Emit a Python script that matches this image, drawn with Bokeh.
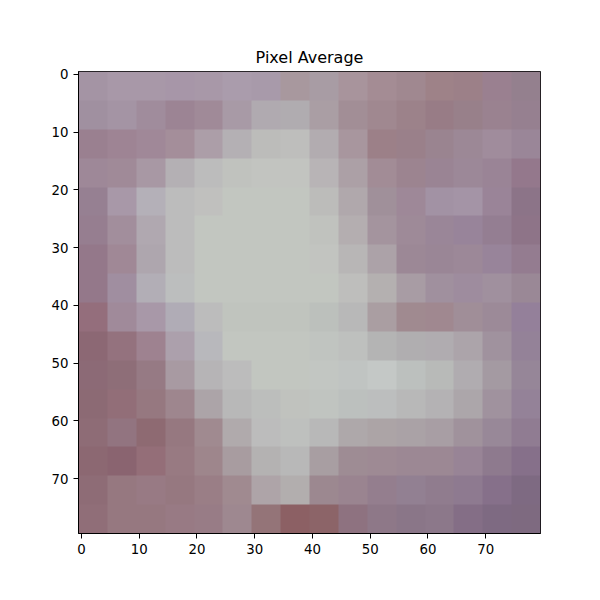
import numpy as np
from bokeh.plotting import figure
from bokeh.models import FixedTicker, Range1d
from bokeh.embed import file_html
from bokeh.resources import INLINE

# coarse 16x16 reading of the averaged image, each cell = 5x5 pixels, row 0 at top
row00 = ["#a494a4", "#a898a8", "#a898a8", "#a796a8", "#a898a8", "#aa9cac", "#a89aaa", "#a8989e", "#a89ca4", "#a8949c", "#a48c94", "#a08890", "#9e8288", "#9c8088", "#9a8090", "#94808e"]
row01 = ["#a090a0", "#a494a4", "#a08c9c", "#9c8494", "#a08a98", "#a89aa6", "#b0aab0", "#b0acb0", "#aa9ea4", "#a28e96", "#a08890", "#9c828a", "#987c86", "#98808a", "#9a8290", "#968090"]
row02 = ["#9a8090", "#9e8494", "#a08898", "#a48e9a", "#ac9ea8", "#b4b0b4", "#bcbcba", "#bebebc", "#b2acb0", "#a8969e", "#9c8088", "#9a808a", "#9a8490", "#9c8896", "#a08c9c", "#9a8698"]
row03 = ["#9e8898", "#a08a98", "#a898a4", "#b4b0b4", "#bcbcbc", "#c0c2be", "#c2c4c0", "#c2c4c0", "#b8b4b6", "#aca0a6", "#a28c96", "#9c8490", "#9a8494", "#9c8898", "#9a8496", "#94788c"]
row04 = ["#968092", "#a898a8", "#b4b0b8", "#bcbcbc", "#c0c0be", "#c2c6c0", "#c2c6c0", "#c2c6c0", "#bcbcba", "#b0a8ac", "#a0909a", "#9e8898", "#a292a4", "#a494a6", "#9a8498", "#8c7488"]
row05 = ["#967e90", "#a28e9c", "#b0a8b0", "#bcbcbc", "#c2c6c0", "#c2c6c0", "#c2c6c0", "#c2c6c0", "#c0c2be", "#b4aeb0", "#a4949e", "#9e8a98", "#9a8698", "#98849a", "#947e92", "#8e7488"]
row06 = ["#94788a", "#a08896", "#aea6ae", "#bcbcbc", "#c2c6c0", "#c2c6c0", "#c2c6c0", "#c2c6c0", "#c2c4c0", "#b8b6b6", "#aca2a8", "#9c8896", "#9a8696", "#9c8898", "#98849a", "#947c90"]
row07 = ["#94788a", "#a08ea0", "#b2aeb6", "#bcbebe", "#c2c6c0", "#c2c6c0", "#c2c6c0", "#c2c6c0", "#c2c6c0", "#bebebc", "#b4b0b0", "#a89ca4", "#a0909e", "#9e8c9e", "#a0909e", "#9a8896"]
row08 = ["#946e7c", "#a08a9a", "#a898a8", "#b0acb6", "#bcbcbc", "#c0c4be", "#c0c4be", "#c0c4be", "#bcc0bc", "#b8b8b8", "#aa9ea2", "#a08a90", "#a08890", "#a08e98", "#9c8a98", "#94809a"]
row09 = ["#8c6874", "#94727e", "#9e8290", "#aca0ac", "#b8b8bc", "#c2c6c0", "#c2c6c0", "#c2c6c0", "#c0c4c0", "#bec0be", "#b4b4b4", "#b0aeb0", "#b0acb0", "#aca4aa", "#a0929e", "#948298"]
row10 = ["#8c6a76", "#8e6e78", "#967a84", "#a89aa2", "#b6b4b6", "#bcbcbc", "#c2c6c0", "#c2c6c0", "#c2c6c2", "#c0c4c2", "#c4c8c6", "#bcc0be", "#b8bab8", "#b0acb0", "#a49aa2", "#968698"]
row11 = ["#8c6a74", "#926e78", "#967880", "#9e868e", "#aca4a8", "#b8b8b8", "#bcbebc", "#c0c2be", "#c0c4c0", "#bcc0be", "#bcbebe", "#b8b8b8", "#b4b2b4", "#aca6aa", "#a0929e", "#948298"]
row12 = ["#8e6c76", "#927480", "#8e6a72", "#967880", "#a08a90", "#b0aaac", "#bcbcbc", "#bec0be", "#b8b8b8", "#aea8aa", "#aca4a6", "#aaa2a6", "#a89ea4", "#a0929c", "#988898", "#907c92"]
row13 = ["#8c6872", "#8a6470", "#946e78", "#987a82", "#9e868c", "#a89ca0", "#b4b2b2", "#b8b8b8", "#a89ea2", "#9e8c94", "#9e8a94", "#9c8894", "#9c8894", "#988496", "#8e7a8e", "#86708a"]
row14 = ["#8e6c76", "#967880", "#987a84", "#967880", "#9a7e86", "#a08a90", "#aea4a8", "#b2aeae", "#9c8890", "#9a8490", "#947e8e", "#928092", "#907c8e", "#8e7a90", "#86708a", "#7e6a82"]
row15 = ["#906e78", "#967880", "#967880", "#987a84", "#987c86", "#9e8890", "#947478", "#8c6064", "#8c6468", "#8e7280", "#8e7888", "#8a7688", "#8c788a", "#846e86", "#7e6a82", "#7e6a80"]

rows = [row00, row01, row02, row03, row04, row05, row06, row07,
        row08, row09, row10, row11, row12, row13, row14, row15]

n = len(rows)
img = np.empty((n, n), dtype=np.uint32)
view = img.view(dtype=np.uint8).reshape((n, n, 4))
for i, r in enumerate(rows):
    for j, c in enumerate(r):
        view[i, j, 0] = int(c[1:3], 16)
        view[i, j, 1] = int(c[3:5], 16)
        view[i, j, 2] = int(c[5:7], 16)
        view[i, j, 3] = 255

p = figure(width=592, height=592, title="Pixel Average",
           x_range=Range1d(-0.5, 79.5), y_range=Range1d(79.5, -0.5),
           output_backend="svg", toolbar_location=None,
           min_border_left=78, min_border_right=52,
           min_border_top=71, min_border_bottom=59)
p.image_rgba(image=[img], x=-0.5, y=-0.5, dw=80, dh=80)

p.grid.grid_line_color = None
p.outline_line_color = "black"
p.outline_line_width = 1
p.title.align = "center"
p.title.text_font = "DejaVu Sans"
p.title.text_font_style = "normal"
p.title.text_font_size = "12pt"
p.title.text_color = "black"

for ax in (p.xaxis[0], p.yaxis[0]):
    ax.ticker = FixedTicker(ticks=[0, 10, 20, 30, 40, 50, 60, 70])
    ax.minor_tick_line_color = None
    ax.major_tick_out = 5
    ax.major_tick_in = 0
    ax.major_label_text_font = "DejaVu Sans"
    ax.major_label_text_font_size = "10pt"
    ax.major_label_text_color = "black"
    ax.axis_line_color = "black"
    ax.major_tick_line_color = "black"

open("out.html", "w").write(file_html(p, INLINE))
